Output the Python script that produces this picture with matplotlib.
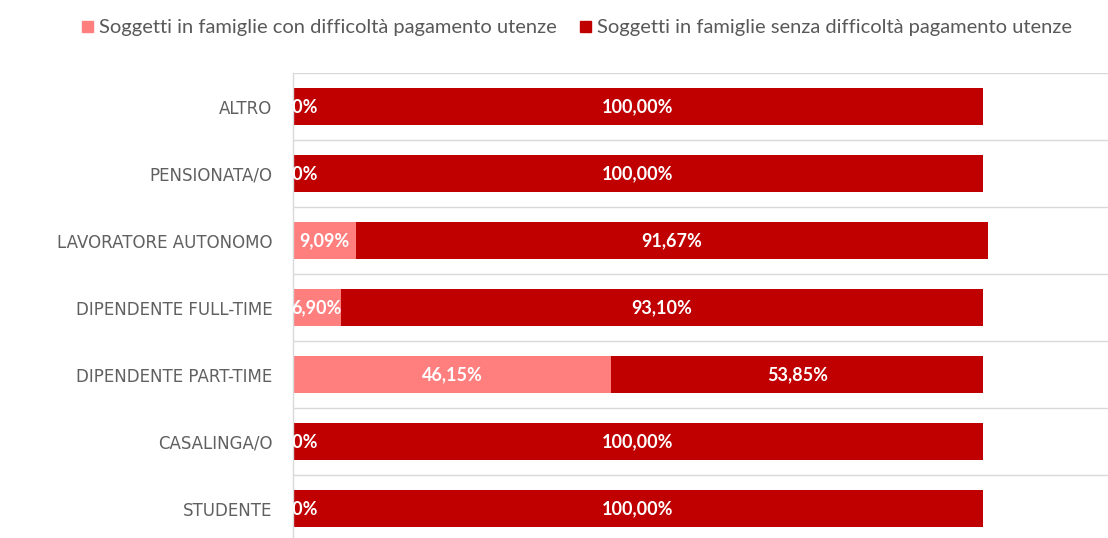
import matplotlib
matplotlib.use("Agg")
import matplotlib.pyplot as plt
from matplotlib.patches import Patch

categories = ["ALTRO", "PENSIONATA/O", "LAVORATORE AUTONOMO", "DIPENDENTE FULL-TIME",
              "DIPENDENTE PART-TIME", "CASALINGA/O", "STUDENTE"]
con_difficolta = [0.00, 0.00, 9.09, 6.90, 46.15, 0.00, 0.00]
senza_difficolta = [100.00, 100.00, 91.67, 93.10, 53.85, 100.00, 100.00]
series_names = ["Soggetti in famiglie con difficoltà pagamento utenze",
                "Soggetti in famiglie senza difficoltà pagamento utenze"]

c_light = "#FF7F7F"
c_dark = "#C00000"

W, H = 1108, 538
fig = plt.figure(figsize=(W / 100, H / 100), dpi=100)
left_px, top_px, right_px = 293, 73, 1108
band = 67.0
bottom_px = top_px + band * len(categories)
ax = fig.add_axes([left_px / W, (H - bottom_px) / H, (right_px - left_px) / W, band * len(categories) / H])

y = list(range(len(categories)))
bar_h = 0.55
ax.barh(y, con_difficolta, height=bar_h, color=c_light, label=series_names[0])
ax.barh(y, senza_difficolta, left=con_difficolta, height=bar_h, color=c_dark, label=series_names[1])

def fmt(v):
    return f"{v:.2f}".replace(".", ",") + "%"

lab_font = dict(family=["Lato", "DejaVu Sans"], fontsize=13, fontweight="bold", color="white")
for i in y:
    a = con_difficolta[i]
    b = senza_difficolta[i]
    ax.text(a / 2, i, fmt(a), ha="center", va="center", clip_on=True, **lab_font)
    ax.text(a + b / 2, i, fmt(b), ha="center", va="center", clip_on=True, **lab_font)

ax.set_xlim(0, (right_px - left_px) / 6.90)
ax.set_ylim(len(categories) - 0.5, -0.5)
ax.set_yticks(y)
ax.set_yticklabels(categories, family=["DejaVu Sans"], fontsize=12, color="#606060")
ax.tick_params(axis="y", length=0, pad=15)
ax.set_xticks([])
for s in ["top", "right", "bottom"]:
    ax.spines[s].set_visible(False)
ax.spines["left"].set_color("#D9D9D9")
ax.spines["left"].set_linewidth(1)
for k in range(len(categories) + 1):
    ax.axhline(k - 0.5, color="#D9D9D9", linewidth=1, zorder=0)

handles = [Patch(color=c_light, label=series_names[0]), Patch(color=c_dark, label=series_names[1])]
fig.legend(handles=handles, loc="center", bbox_to_anchor=(577 / W, 1 - 28 / H), ncol=2, frameon=False,
           prop=dict(family=["Lato", "DejaVu Sans"], size=14.5), labelcolor="#595959",
           handlelength=0.5, handleheight=0.5, handletextpad=0.3, columnspacing=1.2)

fig.savefig("out.png", dpi=100, facecolor="white")
